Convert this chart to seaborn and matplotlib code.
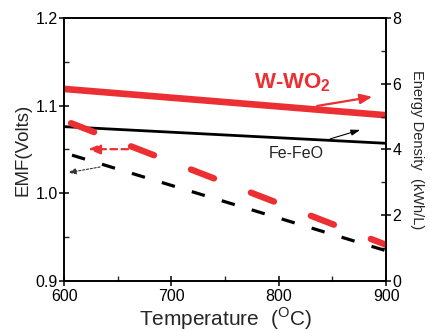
import matplotlib
matplotlib.use("Agg")
import matplotlib.pyplot as plt
import seaborn as sns
import pandas as pd
from matplotlib.ticker import MultipleLocator

temperature = [600, 900]
emf_w_wo2 = [1.119, 1.089]
emf_fe_feo = [1.076, 1.057]
energy_w_wo2 = [4.88, 1.10]
energy_fe_feo = [3.90, 0.92]

x_ticks = [600, 700, 800, 900]
emf_ticks = [0.9, 1.0, 1.1, 1.2]
energy_ticks = [0, 2, 4, 6, 8]

RED = "#EC2F33"

sns.set_theme(style="white")
plt.rcParams["font.family"] = ["Liberation Sans", "DejaVu Sans"]
plt.rcParams["mathtext.fontset"] = "custom"
plt.rcParams["mathtext.rm"] = "Liberation Sans"
plt.rcParams["mathtext.bf"] = "Liberation Sans:bold"

fig = plt.figure(figsize=(4.30, 3.31), dpi=100)
ax = fig.add_axes([0.149, 0.151, 0.749, 0.795])
ax2 = ax.twinx()

df_emf = pd.DataFrame({"T": temperature * 2,
                       "EMF": emf_w_wo2 + emf_fe_feo,
                       "sys": ["W-WO2"] * 2 + ["Fe-FeO"] * 2})
df_en = pd.DataFrame({"T": temperature * 2,
                      "E": energy_w_wo2 + energy_fe_feo,
                      "sys": ["W-WO2"] * 2 + ["Fe-FeO"] * 2})

sns.lineplot(data=df_emf[df_emf.sys == "W-WO2"], x="T", y="EMF", ax=ax,
             color=RED, lw=4.8, legend=False, solid_capstyle="butt")
sns.lineplot(data=df_emf[df_emf.sys == "Fe-FeO"], x="T", y="EMF", ax=ax,
             color="black", lw=2.0, legend=False, solid_capstyle="butt")
sns.lineplot(data=df_en[df_en.sys == "W-WO2"], x="T", y="E", ax=ax2,
             color=RED, lw=4.6, legend=False, dashes=False,
             linestyle=(8.89, (3.86, 6.2)), dash_capstyle="round")
sns.lineplot(data=df_en[df_en.sys == "Fe-FeO"], x="T", y="E", ax=ax2,
             color="black", lw=2.3, legend=False, dashes=False,
             linestyle=(7.2, (4.25, 5.55)))

ax.set_xlim(600, 900)
ax.set_ylim(0.9, 1.2)
ax2.set_ylim(0, 8)
ax.set_xticks(x_ticks)
ax.set_yticks(emf_ticks)
ax2.set_yticks(energy_ticks)
ax.set_yticklabels([f"{v:.1f}" for v in emf_ticks])
ax.xaxis.set_minor_locator(MultipleLocator(50))
ax.yaxis.set_minor_locator(MultipleLocator(0.05))
ax2.yaxis.set_minor_locator(MultipleLocator(1))

for a in (ax, ax2):
    for s in a.spines.values():
        s.set_color("black")
        s.set_linewidth(1.2)
ax.tick_params(axis="both", which="major", direction="inout", length=7, width=1.1,
               labelsize=11.5, colors="black", pad=1, bottom=True, left=True)
ax.tick_params(axis="both", which="minor", direction="in", length=3.5, width=1.0,
               bottom=True, left=True)
ax2.tick_params(axis="y", which="major", direction="inout", length=7, width=1.1,
                labelsize=11.5, colors="black", pad=1, right=True)
ax2.tick_params(axis="y", which="minor", direction="in", length=3.5, width=1.0, right=True)
ax.tick_params(axis="x", pad=2)

ax.set_xlabel(r"Temperature  ($^{\mathrm{O}}$C)", fontsize=15, labelpad=1)
ax.set_ylabel("EMF(Volts)", fontsize=13.5, labelpad=3)
ax2.set_ylabel("Energy Density  (kWh/L)", fontsize=10.5, rotation=270, labelpad=16)

ax.text(813, 1.1259, r"W-WO$_\mathbf{2}$", color=RED, fontsize=16,
        fontweight="bold", ha="center", va="center")
ax.text(816, 1.0458, "Fe-FeO", color="#222222", fontsize=11.5,
        ha="center", va="center")

ax.annotate("", xy=(887, 1.110), xytext=(835.7, 1.0996),
            arrowprops=dict(arrowstyle="-|>,head_length=0.6,head_width=0.25",
                            color=RED, lw=1.6, shrinkA=0, shrinkB=0))
ax.annotate("", xy=(875.8, 1.0723), xytext=(847.8, 1.062),
            arrowprops=dict(arrowstyle="-|>,head_length=0.45,head_width=0.15",
                            color="black", lw=0.8, shrinkA=0, shrinkB=0))
ax.annotate("", xy=(622.4, 1.0503), xytext=(659.7, 1.0503),
            arrowprops=dict(arrowstyle="-|>,head_length=0.6,head_width=0.25",
                            color=RED, lw=1.6, linestyle=(0, (3, 2)),
                            shrinkA=0, shrinkB=0))
ax.annotate("", xy=(603.7, 1.0235), xytext=(633.5, 1.030),
            arrowprops=dict(arrowstyle="-|>,head_length=0.4,head_width=0.15",
                            color="#333333", lw=0.8, linestyle=(0, (2, 1.5)),
                            shrinkA=0, shrinkB=0))

fig.savefig("out.png", dpi=100)
